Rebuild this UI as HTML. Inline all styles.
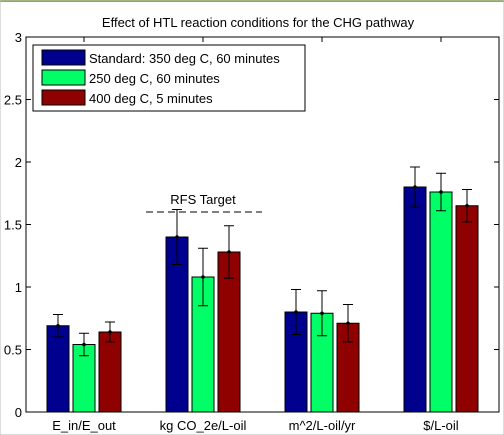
<!DOCTYPE html>
<html><head><meta charset="utf-8"><style>
body{margin:0;background:#fff;}
svg{display:block;font-family:"Liberation Sans",sans-serif;}
</style></head><body>
<svg width="504" height="435">
<rect x="0" y="0" width="504" height="2" fill="#8bb04a"/>
<rect x="0" y="0" width="504" height="435" fill="none" stroke="#bbb"/>
<text x="258" y="27" font-size="13" text-anchor="middle">Effect of HTL reaction conditions for the CHG pathway</text>
<g id="plot"></g>
</svg>
<script>
const categories=["E_in/E_out","kg CO_2e/L-oil","m^2/L-oil/yr","$/L-oil"];
const seriesNames=["Standard: 350 deg C, 60 minutes","250 deg C, 60 minutes","400 deg C, 5 minutes"];
const standard=[0.69,1.40,0.80,1.80];
const low=[0.54,1.08,0.79,1.76];
const high=[0.64,1.28,0.71,1.65];
const errStandard=[0.09,0.22,0.18,0.16];
const errLow=[0.09,0.23,0.18,0.15];
const errHigh=[0.08,0.21,0.15,0.13];
const yTicks=[0,0.5,1,1.5,2,2.5,3];
const yTickLabels=["0","0.5","1","1.5","2","2.5","3"];
const rfsTarget=1.6;

const NS="http://www.w3.org/2000/svg";
const g=document.getElementById('plot');
const L=26,R=499,T=37,B=412;
const y=v=>B-(v/3)*(B-T);
const xc=i=>84+i*119;
const colors=["#00008f","#00ff66","#8f0000"];
const series=[standard,low,high];
const errs=[errStandard,errLow,errHigh];
function el(t,a){const e=document.createElementNS(NS,t);for(const k in a)e.setAttribute(k,a[k]);g.appendChild(e);return e;}

const ax=el('rect',{x:L,y:T,width:R-L,height:B-T,fill:'#fff',stroke:'#000'});



yTicks.forEach((v,i)=>{
  const t=el('line',{x1:L,x2:L+5,y1:y(v),y2:y(v),stroke:'#000'});
  
  
  const t2=el('line',{x1:R-5,x2:R,y1:y(v),y2:y(v),stroke:'#000'});
  
  
  const tx=el('text',{x:L-4,y:y(v)+5,'font-size':13,'text-anchor':'end'});
  tx.textContent=yTickLabels[i];
  
  
});

categories.forEach((c,i)=>{
  const tk=el('line',{x1:xc(i),x2:xc(i),y1:B,y2:B-5,stroke:'#000'});
  
  
  const tk2=el('line',{x1:xc(i),x2:xc(i),y1:T,y2:T+5,stroke:'#000'});
  
  
  const tx=el('text',{x:xc(i),y:B+18,'font-size':13,'text-anchor':'middle'});
  tx.textContent=c;
  
  
  series.forEach((s,j)=>{
    const cx=xc(i)+(j-1)*26;
    const r=el('rect',{x:cx-11,y:y(s[i]),width:22,height:B-y(s[i]),fill:colors[j],stroke:'#000'});
    
    
    const e=errs[j][i];
    const p=el('path',{d:`M${cx},${y(s[i]+e)}V${y(s[i]-e)}M${cx-5},${y(s[i]+e)}H${cx+5}M${cx-5},${y(s[i]-e)}H${cx+5}`,stroke:'#000',fill:'none'});
    
    
    const d=el('circle',{cx:cx,cy:y(s[i]),r:1.8,fill:'#000'});
    
    
  });
});

const rl=el('line',{x1:xc(1)-57,x2:xc(1)+59,y1:y(rfsTarget),y2:y(rfsTarget),stroke:'#000','stroke-dasharray':'7,4'});


const rt=el('text',{x:xc(1),y:y(rfsTarget)-8,'font-size':13,'text-anchor':'middle'});
rt.textContent='RFS Target';



const lb=el('rect',{x:33,y:45,width:272,height:66,fill:'#fff',stroke:'#000'});


seriesNames.forEach((n,j)=>{
  const sw=el('rect',{x:42,y:50+j*20,width:43,height:15,fill:colors[j],stroke:'#000'});
  
  
  const t=el('text',{x:89,y:63+j*20,'font-size':13});
  t.textContent=n;
  
  
});
</script>
</body></html>
